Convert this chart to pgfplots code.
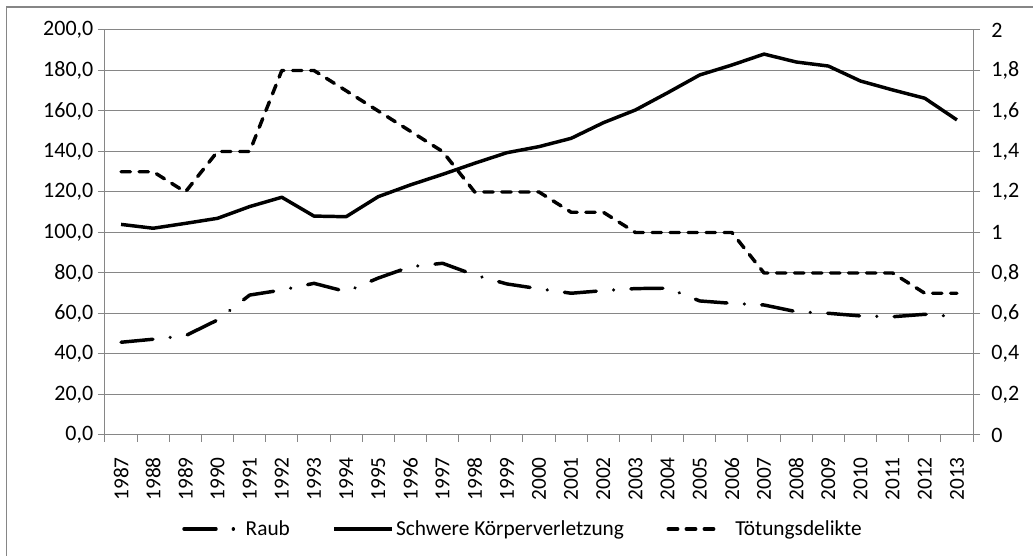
\documentclass[border=0pt]{standalone}
\usepackage{fontspec}
\setmainfont{Carlito}
\usepackage{pgfplots}
\usepackage{pgfplotstable}
\pgfplotsset{compat=1.18}
\definecolor{gridgray}{RGB}{134,134,134}

\pgfplotstableread{
idx year sk raub tot
0  1987 104.0 45.8 1.3
1  1988 102.1 47.3 1.3
2  1989 104.5 49.0 1.2
3  1990 107.0 56.8 1.4
4  1991 112.8 69.1 1.4
5  1992 117.4 71.6 1.8
6  1993 108.1 74.9 1.8
7  1994 107.8 70.8 1.7
8  1995 117.7 77.5 1.6
9  1996 123.5 83.1 1.5
10 1997 128.7 84.8 1.4
11 1998 134.2 79.0 1.2
12 1999 139.4 74.6 1.2
13 2000 142.4 72.2 1.2
14 2001 146.5 70.0 1.1
15 2002 154.2 71.3 1.1
16 2003 160.5 72.3 1.0
17 2004 169.0 72.5 1.0
18 2005 177.8 66.2 1.0
19 2006 182.7 65.0 1.0
20 2007 188.1 64.2 0.8
21 2008 184.2 60.9 0.8
22 2009 182.2 60.1 0.8
23 2010 174.8 58.8 0.8
24 2011 170.4 58.4 0.8
25 2012 166.3 59.6 0.7
26 2013 155.6 58.4 0.7
}\datatable

\tikzset{
  raubstyle/.style={black, line width=2.6pt, line cap=round, line join=round, dash pattern=on 24pt off 13pt on 0.01pt off 13pt},
  skstyle/.style={black, line width=2.6pt, line join=round},
  totstyle/.style={black, line width=2.6pt, line cap=round, line join=round, dash pattern=on 7pt off 6.5pt},
}

\pgfplotsset{
  common/.style={
    at={(78.75pt,90.75pt)}, anchor=south west,
    width=651pt, height=303.75pt, scale only axis,
    xmin=-0.5, xmax=26.5,
    font=\fontsize{16}{19}\selectfont,
    tick align=outside,
    major tick length=5.25pt, minor tick length=5.25pt,
    tick style={gridgray, line width=0.75pt},
    axis line style={gridgray, line width=0.75pt},
    ticklabel style={black},
    /pgf/number format/assume math mode=true,
  },
  totlegend/.style={legend image code/.code={\draw[totstyle] (0pt,0pt) -- (35pt,0pt);}},
}

\begin{document}
\begin{tikzpicture}[x=1pt,y=1pt]
\useasboundingbox (0,0) rectangle (774.75,417);
\draw[gridgray, line width=1.2pt] (4.875,-5) -- (4.875,411.75) -- (790,411.75);

\begin{axis}[common,
  ymin=0, ymax=200,
  ytick={0,20,...,200},
  ymajorgrids, grid style={gridgray, line width=0.75pt},
  xtick={0,...,26},
  xticklabels={1987,1988,1989,1990,1991,1992,1993,1994,1995,1996,1997,1998,1999,2000,2001,2002,2003,2004,2005,2006,2007,2008,2009,2010,2011,2012,2013},
  major x tick style={draw=none},
  minor xtick={-0.5,0.5,...,26.5},
  xticklabel shift=8pt,
  xticklabel style={rotate=90, anchor=east},
  axis y line*=left, axis x line*=bottom,
  yticklabel style={font=\fontsize{16.5}{19}\selectfont, /pgf/number format/.cd, fixed, fixed zerofill, precision=1, use comma, assume math mode=true},
]
\addplot[raubstyle] table[x=idx, y=raub] {\datatable};
\addplot[skstyle] table[x=idx, y=sk] {\datatable};
\end{axis}

\begin{axis}[common,
  ymin=0, ymax=2,
  ytick={0,0.2,0.4,0.6,0.8,1,1.2,1.4,1.6,1.8,2},
  axis y line*=right, axis x line=none,
  yticklabel style={xshift=5pt, font=\fontsize{16.5}{19}\selectfont, /pgf/number format/.cd, use comma, assume math mode=true},
  legend style={at={(0.482,-0.232)}, anchor=center, draw=none, fill=none,
    legend columns=3, font=\fontsize{16}{19}\selectfont,
    /tikz/every even column/.append style={column sep=30pt},
    /tikz/column 4/.append style={column sep=10pt}},
  legend image code/.code={\draw[#1] (0pt,0pt) -- (43pt,0pt);},
]
\addlegendimage{raubstyle}
\addlegendentry{Raub}
\addlegendimage{skstyle}
\addlegendentry{Schwere Körperverletzung}
\addplot[totstyle, totlegend] table[x=idx, y=tot] {\datatable};
\addlegendentry{\hspace*{12pt}Tötungsdelikte}
\end{axis}
\end{tikzpicture}
\end{document}
